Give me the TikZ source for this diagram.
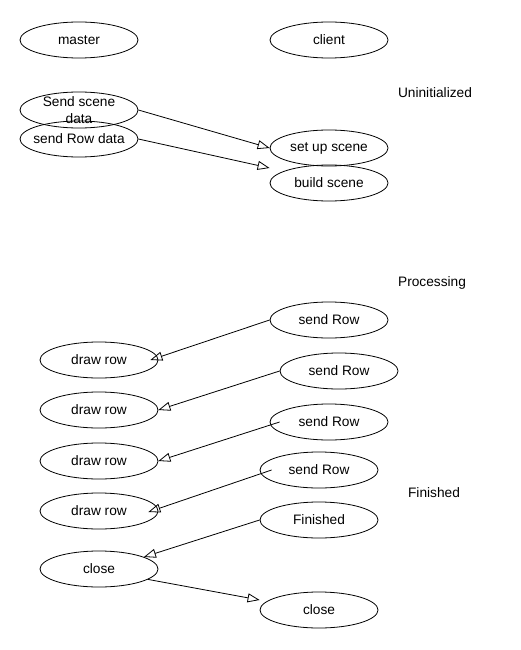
\documentclass[tikz,border=0pt]{standalone}
\usepackage{fontspec}
\setmainfont{Liberation Sans}
\usepackage{tikz}
\usetikzlibrary{arrows.meta}
\usetikzlibrary{positioning}
\usetikzlibrary{shapes.geometric}
\tikzstyle{msg}=[-{Triangle[open,length=12pt,width=9pt]},line width=0.8pt]

\begin{document}
\begin{tikzpicture}[x=1pt,y=-1pt]
    % todas as elipses do mesmo tamanho
    \tikzstyle{state}=[draw,ellipse,line width=0.8pt,minimum width=118pt,minimum height=36pt,inner sep=-6pt,font=\fontsize{13.7}{17}\selectfont]
    \tikzstyle{phase}=[font=\fontsize{13.7}{17}\selectfont]

    \useasboundingbox (0,0) rectangle (520,650);

    \node[state] (master) at (79,40) {master};
    \node[state] (client) at (329,40) {client};

    \node[phase] (uninit) at (435,93) {Uninitialized};
    \node[state,align=center] (scenedata) at (79,110) {Send scene\\data};
    \node[state] (rowdata) at (79,139) {send Row data};
    \node[state] (setup) at (329,148) {set up scene};
    \node[state] (build) at (329,183) {build scene};

    \node[phase] (processing) at (432,283) {Processing};
    \node[state] (send1) at (329,320) {send Row};
    \node[state] (draw1) at (99,360) {draw row};
    \node[state] (send2) at (339,371) {send Row};
    \node[state] (draw2) at (99,410) {draw row};
    \node[state] (send3) at (329,422) {send Row};
    \node[state] (draw3) at (99,461) {draw row};
    \node[state] (send4) at (319,470) {send Row};
    \node[state] (draw4) at (99,511) {draw row};

    \node[phase] (finished) at (434,493) {Finished};
    \node[state] (fin) at (319,520) {Finished};
    \node[state] (close1) at (99,569) {close};
    \node[state] (close2) at (319,610) {close};

    \draw[msg] (scenedata.east) -- (setup.west);
    \draw[msg] (rowdata.east) -- ([yshift=15pt]build.west);
    \draw[msg] (send1.west) -- ([xshift=-8pt]draw1.east);
    \draw[msg] (send2.west) -- (draw2.east);
    \draw[msg] ([xshift=10pt]send3.west) -- (draw3.east);
    \draw[msg] ([xshift=12pt]send4.west) -- ([xshift=-10pt,yshift=-1pt]draw4.east);
    \draw[msg] (fin.west) -- (close1.15);
    \draw[msg] (close1.-12) -- ([yshift=10pt]close2.west);
\end{tikzpicture}
\end{document}
